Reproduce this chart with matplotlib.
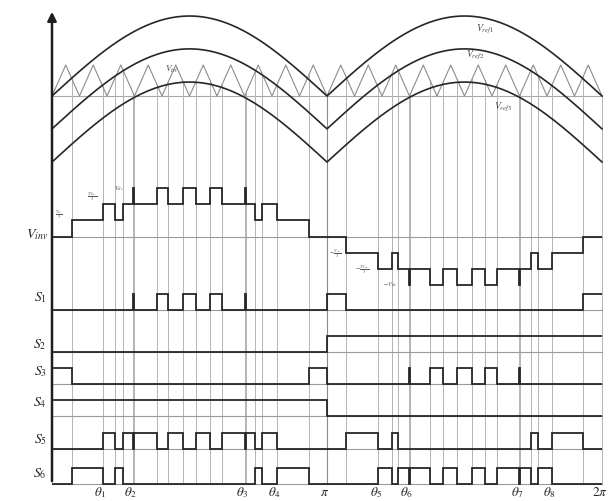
import numpy as np
import matplotlib
matplotlib.use("Agg")
import matplotlib.pyplot as plt

plt.rcParams["mathtext.fontset"] = "stix"
plt.rcParams["font.family"] = ["DejaVu Serif"]

# ---------------------------------------------------------------- data
# output-voltage switching instants (degrees) and the level entered at each one
vinv_angles_pos = [0, 12.9, 33.2, 41.2, 46.3, 53.0, 53.8, 68.5, 76.1, 85.5, 94.0,
                   103.4, 111.1, 126.2, 127.0, 133.0, 137.5, 147.1, 168.0]
vinv_levels_pos = [0, 1, 2, 1, 2, 3, 2, 3, 2, 3, 2, 3, 2, 3, 2, 1, 2, 1, 0]
vinv_angles_neg = [180, 192.4, 213.6, 222.3, 226.7, 233.5, 234.3, 247.4, 256.1, 265.0,
                   275.0, 283.4, 291.1, 305.8, 306.6, 313.5, 318.3, 327.1, 347.8]
vinv_levels_neg = [0, -1, -2, -1, -2, -3, -2, -3, -2, -3, -2, -3, -2, -3, -2, -1, -2, -1, 0]

# gate states S1..S6 for each output level
switch_table_pos = {0: [0, 0, 1, 1, 0, 0], 1: [0, 0, 0, 1, 0, 1],
                    2: [0, 0, 0, 1, 1, 0], 3: [1, 0, 0, 1, 0, 0]}
switch_table_neg = {0: [1, 1, 0, 0, 0, 0], -1: [0, 1, 0, 0, 1, 0],
                    -2: [0, 1, 0, 0, 0, 1], -3: [0, 1, 1, 0, 0, 0]}
switch_names = ["$S_1$", "$S_2$", "$S_3$", "$S_4$", "$S_5$", "$S_6$"]

# rectified references (in carrier units) and the triangular carrier
ref_offsets = [0.0, -1.06, -2.13]
ref_amplitude = 2.58
ref_names = ["$V_{ref1}$", "$V_{ref2}$", "$V_{ref3}$"]
carrier_cycles = 20

angle_labels = [r"$\theta_1$", r"$\theta_2$", r"$\theta_3$", r"$\theta_4$", r"$\pi$",
                r"$\theta_5$", r"$\theta_6$", r"$\theta_7$", r"$\theta_8$", r"$2\pi$"]
angle_marks = [33.2, 53.0, 126.2, 147.1, 180, 213.6, 233.5, 305.8, 327.1, 360]

# ---------------------------------------------------------------- layout
W, H = 616, 502
X0, X1 = 52, 602                      # pixel columns of 0 and 2*pi


def px2deg(px):
    return (px - X0) * 360.0 / (X1 - X0)


CAR_BASE, CAR_UNIT = 97, 31           # carrier baseline row, rows per carrier unit
VINV_BASE, VINV_STEP = 237.5, 16.3
S_LOW = [311, 352.5, 384.5, 417, 450, 485]
S_STEP = 16
Y_BOTTOM = 485

INK = "#262626"
GRID = "#b4b4b4"

fig = plt.figure(figsize=(W / 100, H / 100), dpi=100)
ax = fig.add_axes([0, 0, 1, 1])
ax.set_xlim(px2deg(0), px2deg(W))
ax.set_ylim(H, 0)
ax.axis("off")

# carrier
car_x = np.linspace(0, 360, 2 * carrier_cycles + 1)
car_v = np.array([i % 2 for i in range(len(car_x))], dtype=float)
ax.plot(car_x, CAR_BASE - CAR_UNIT * car_v, color="#8c8c8c", lw=0.8, zorder=2)
ax.plot([0, 360], [CAR_BASE, CAR_BASE], color="#a8a8a8", lw=0.8, zorder=1)

# references
t = np.linspace(0, 360, 1441)
for off in ref_offsets:
    v = off + ref_amplitude * np.abs(np.sin(np.radians(t)))
    ax.plot(t, CAR_BASE - CAR_UNIT * v, color=INK, lw=1.2, zorder=3)

ax.text(px2deg(476), 32, ref_names[0], fontsize=7, color="#444", zorder=5)
ax.text(px2deg(466), 58, ref_names[1], fontsize=7, color="#444", zorder=5)
ax.text(px2deg(494), 110, ref_names[2], fontsize=7, color="#444", zorder=5)
ax.text(px2deg(165), 72, "$V_{tri}$", fontsize=6.5, color="#444", zorder=5)

# output voltage and gate signals
angles = vinv_angles_pos + vinv_angles_neg
levels = vinv_levels_pos + vinv_levels_neg
edges = np.array(angles + [360])

# vertical guide lines at every switching instant
for a in angles[1:] + [180, 360]:
    top = CAR_BASE - CAR_UNIT * np.interp(a, car_x, car_v)
    ax.plot([a, a], [top, Y_BOTTOM], color=GRID, lw=0.7, zorder=1)
ax.plot([180, 180], [CAR_BASE, Y_BOTTOM], color="#8a8a8a", lw=0.8, zorder=1)

ax.plot([0, 360], [VINV_BASE, VINV_BASE], color="#9a9a9a", lw=0.8, zorder=1)
vinv_px = VINV_BASE - VINV_STEP * np.array(levels, dtype=float)
ax.stairs(vinv_px, edges, baseline=None, color=INK, lw=1.3, zorder=4)

states = np.array([(switch_table_pos if a < 180 else switch_table_neg)[lv]
                   for a, lv in zip(angles, levels)])
for k in range(6):
    ax.plot([0, 360], [S_LOW[k], S_LOW[k]], color="#9a9a9a", lw=0.8, zorder=1)
    ys = S_LOW[k] - S_STEP * states[:, k]
    ax.stairs(ys, edges, baseline=None, color=INK, lw=1.3, zorder=4)

# level annotations
small = dict(fontsize=4.6, color="#555", ha="center", va="center", zorder=5)
ax.text(px2deg(59), 215, r"$\frac{V_{dc}}{3}$", **small)
ax.text(px2deg(92), 197, r"$\frac{2V_{dc}}{3}$", **small)
ax.text(px2deg(119), 189, r"$V_{dc}$", **small)
ax.text(px2deg(335), 254, r"$-\frac{V_{dc}}{3}$", **small)
ax.text(px2deg(362), 270, r"$-\frac{2V_{dc}}{3}$", **small)
ax.text(px2deg(390), 285, r"$-V_{dc}$", **small)

# left labels
ax.text(px2deg(48), 235, "$V_{inv}$", fontsize=10, ha="right", va="center", color=INK)
for k, yl in enumerate([298, 345, 372, 403, 440, 474]):
    ax.text(px2deg(47), yl, switch_names[k], fontsize=10, ha="right", va="center", color=INK)

# bottom angle labels
for lab, a in zip(angle_labels, angle_marks):
    ax.text(a - 1.5, 493, lab, fontsize=9.5, ha="center", va="center", color=INK)

# vertical axis with arrow
ax.annotate("", xy=(0, 10), xytext=(0, Y_BOTTOM),
            arrowprops=dict(arrowstyle="-|>", lw=1.8, color="#1e1e1e", mutation_scale=13))

fig.savefig("out.png", dpi=100, facecolor="white")
